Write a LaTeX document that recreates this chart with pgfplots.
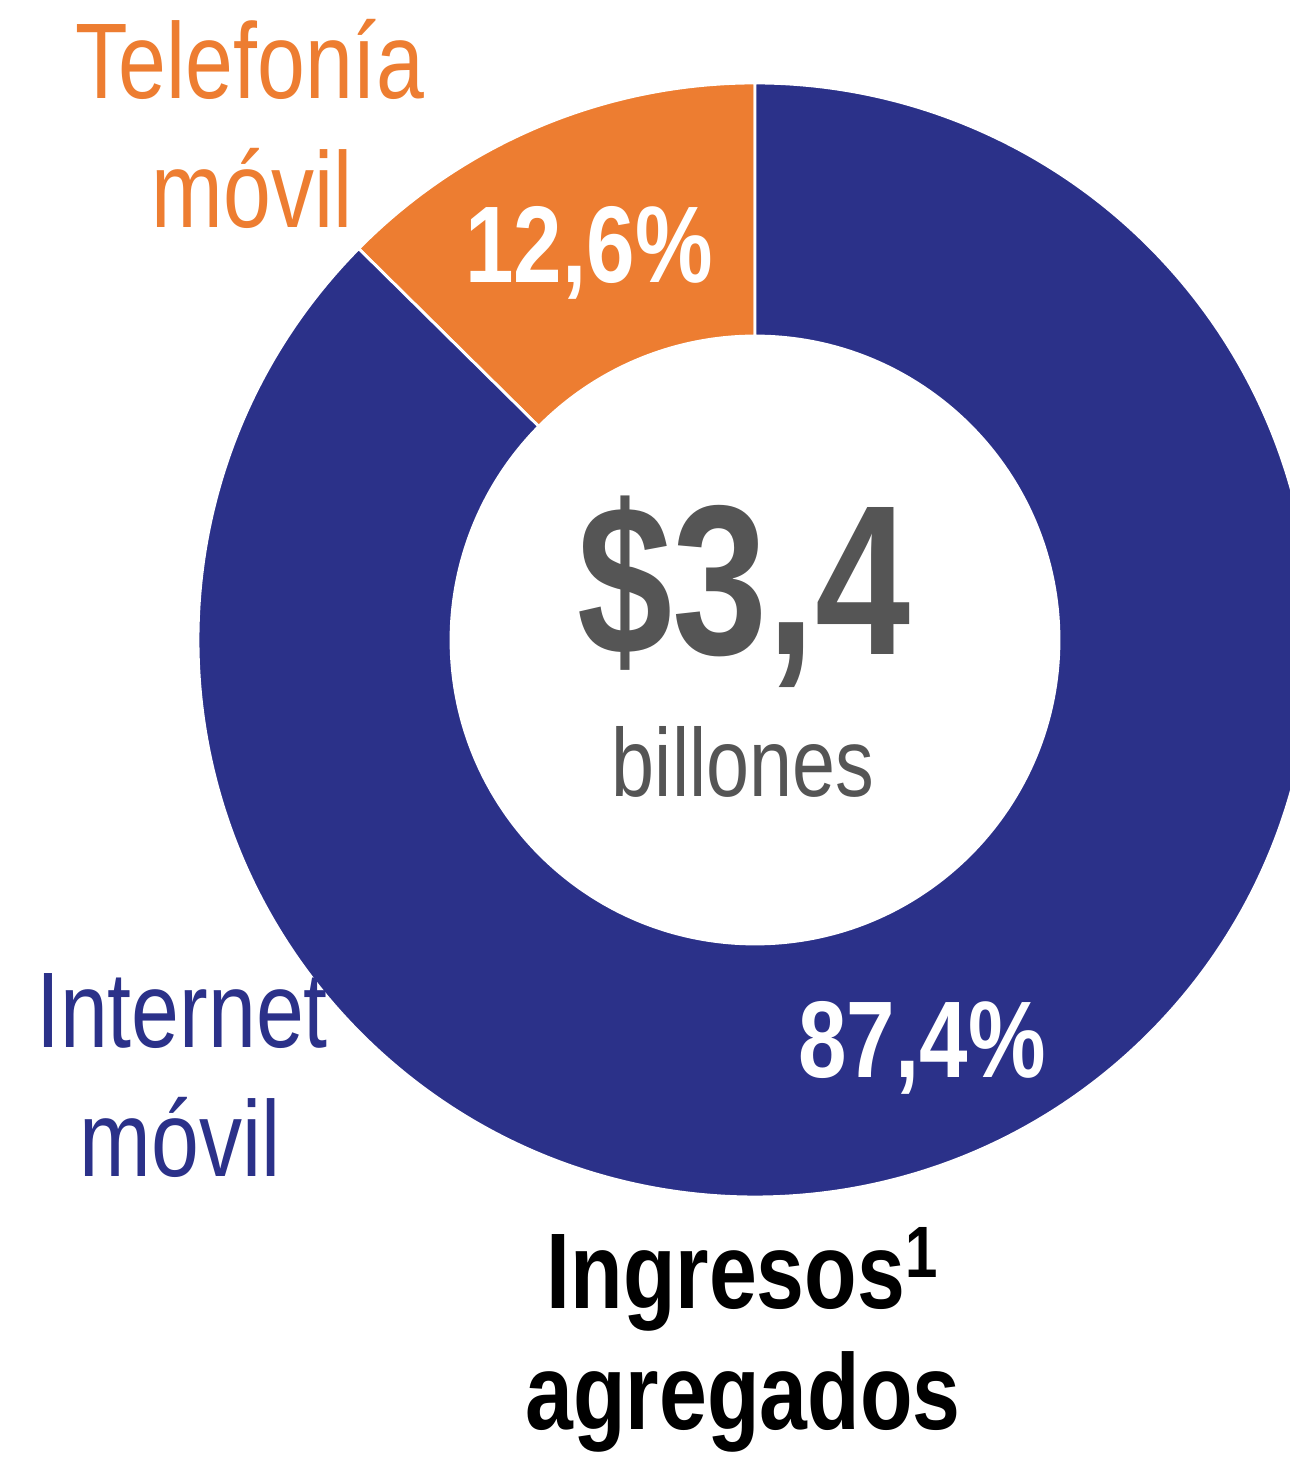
\documentclass[border=0pt]{standalone}
\usepackage{pgfplots}
\pgfplotsset{compat=1.18}
\usepackage{pgfplotstable}
\usepackage{fontspec}
\setmainfont{Liberation Sans}[FakeStretch=0.8]

\definecolor{navy}{RGB}{43,49,137}
\definecolor{tel}{RGB}{237,125,49}
\definecolor{grayt}{RGB}{85,85,85}

\pgfplotstableread{
segment share
Internet 87.4
Telefonia 12.6
}\sharetable

\begin{document}%
\begin{tikzpicture}
\pgfplotstablegetelem{0}{share}\of\sharetable \edef\shareInt{\pgfplotsretval}
\pgfplotstablegetelem{1}{share}\of\sharetable \edef\shareTel{\pgfplotsretval}
\pgfmathsetmacro\aA{90}
\pgfmathsetmacro\aB{90+3.6*\shareTel}
\pgfmathsetmacro\aC{\aB+3.6*\shareInt}
\def\cx{755}\def\cy{817}\def\Ro{557}\def\Ri{304}
\useasboundingbox (0,0) rectangle (12.9cm,14.57cm);
\clip (0,0) rectangle (12.9cm,14.57cm);
\begin{axis}[
  at={(0,0)}, anchor=south west,
  width=12.9cm, height=14.57cm, scale only axis,
  xmin=0, xmax=1290, ymin=0, ymax=1457,
  hide axis, clip=false,
]
% Telefonia movil
\fill[tel, draw=white, line width=0.8pt]
  (axis cs:{\cx+\Ro*cos(\aA)},{\cy+\Ro*sin(\aA)})
  arc[start angle=\aA, end angle=\aB, radius=\Ro]
  -- (axis cs:{\cx+\Ri*cos(\aB)},{\cy+\Ri*sin(\aB)})
  arc[start angle=\aB, end angle=\aA, radius=\Ri] -- cycle;
% Internet movil
\fill[navy, draw=white, line width=0.8pt]
  (axis cs:{\cx+\Ro*cos(\aB)},{\cy+\Ro*sin(\aB)})
  arc[start angle=\aB, end angle=\aC, radius=\Ro]
  -- (axis cs:{\cx+\Ri*cos(\aC)},{\cy+\Ri*sin(\aC)})
  arc[start angle=\aC, end angle=\aB, radius=\Ri] -- cycle;

\node[anchor=base, inner sep=0pt, text=tel, font=\fontsize{30.6}{36}\selectfont] at (axis cs:250,1358) {Telefonía};
\node[anchor=base, inner sep=0pt, text=tel, font=\fontsize{30.6}{36}\selectfont] at (axis cs:252,1229) {móvil};
\node[anchor=base, inner sep=0pt, text=navy, font=\fontsize{30.6}{36}\selectfont] at (axis cs:182,409) {Internet};
\node[anchor=base, inner sep=0pt, text=navy, font=\fontsize{30.6}{36}\selectfont] at (axis cs:180,280) {móvil};
\node[anchor=base, inner sep=0pt, text=white, font=\bfseries\fontsize{31}{36}\selectfont] at (axis cs:589,1174) {12,6\%};
\node[anchor=base, inner sep=0pt, text=white, font=\bfseries\fontsize{31}{36}\selectfont] at (axis cs:922,379) {87,4\%};
\node[anchor=base, inner sep=0pt, text=grayt, font=\bfseries\fontsize{60.8}{70}\selectfont] at (axis cs:744,802) {\$3,4};
\node[anchor=base, inner sep=0pt, text=grayt, font=\fontsize{27.5}{32}\selectfont] at (axis cs:743,660) {billones};
\node[anchor=base, inner sep=0pt, text=black, font=\bfseries\fontsize{30.6}{36}\selectfont] at (axis cs:742,148)
  {Ingresos\raisebox{9pt}{\fontsize{20.7}{24}\selectfont 1}};
\node[anchor=base, inner sep=0pt, text=black, font=\bfseries\fontsize{30.6}{36}\selectfont] at (axis cs:743,27) {agregados};
\end{axis}
\end{tikzpicture}%
\end{document}
